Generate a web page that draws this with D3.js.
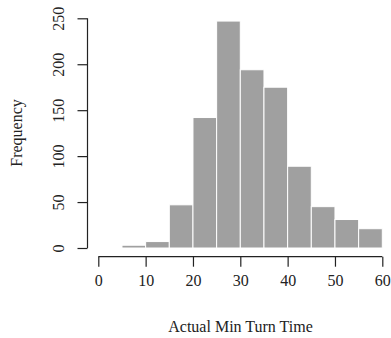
<!DOCTYPE html>
<html>
<head>
<meta charset="utf-8">
<script src="https://cdn.jsdelivr.net/npm/d3@7"></script>
<style>
  body { margin: 0; background: #fff; }
  text { font-family: "Liberation Serif", "DejaVu Serif", serif; fill: #222; }
</style>
</head>
<body>
<div class="chart"></div>
<script>
var svgWidth = 391;
var svgHeight = 338;

// histogram bins (5-minute wide) and counts
var binStarts = [5, 10, 15, 20, 25, 30, 35, 40, 45, 50, 55];
var binWidth = 5;
var counts = [3, 7, 47, 142, 247, 194, 175, 89, 45, 31, 21];
var xTicks = [0, 10, 20, 30, 40, 50, 60];
var yTicks = [0, 50, 100, 150, 200, 250];

var svg = d3.select(".chart")
  .append("svg")
  .attr("width", svgWidth)
  .attr("height", svgHeight);

var xScale = d3.scaleLinear().domain([0, 60]).range([98.3, 382.3]);
var yScale = d3.scaleLinear().domain([0, 250]).range([248, 18.3]);

// bars
svg.append("g").selectAll("rect")
  .data(counts)
  .enter()
  .append("rect")
  .attr("x", (d, i) => xScale(binStarts[i]))
  .attr("y", d => yScale(d))
  .attr("width", (d, i) => xScale(binStarts[i] + binWidth) - xScale(binStarts[i]))
  .attr("height", d => yScale(0) - yScale(d))
  .attr("fill", "#a0a0a0")
  .attr("stroke", "#fff")
  .attr("stroke-width", 1);

// x axis
var xAxis = svg.append("g")
  .attr("transform", "translate(0, 256.7)")
  .call(d3.axisBottom(xScale).tickValues(xTicks).tickSize(10).tickPadding(8).tickFormat(d3.format("d")));
xAxis.select(".domain").attr("d", `M${xScale(0)},0H${xScale(60)}`).attr("stroke", "#222").attr("stroke-width", 1.2);
xAxis.selectAll(".tick line").attr("stroke", "#222").attr("stroke-width", 1.2);
xAxis.selectAll(".tick text").style("font-size", "16px").attr("font-family", null).attr("fill", "#222");

// y axis
var yAxis = svg.append("g")
  .attr("transform", "translate(87.5, 0)")
  .call(d3.axisLeft(yScale).tickValues(yTicks).tickSize(10).tickFormat(d3.format("d")));
yAxis.select(".domain").attr("d", `M0,${yScale(0)}V${yScale(250)}`).attr("stroke", "#222").attr("stroke-width", 1.2);
yAxis.selectAll(".tick line").attr("stroke", "#222").attr("stroke-width", 1.2);
yAxis.selectAll(".tick text")
  .attr("x", null).attr("dy", null).attr("font-family", null)
  .attr("transform", "translate(-24, 0) rotate(-90)")
  .attr("text-anchor", "middle")
  .style("font-size", "16px")
  .attr("fill", "#222");

// axis titles
svg.append("text")
  .attr("x", 240.5)
  .attr("y", 332)
  .attr("text-anchor", "middle")
  .style("font-size", "16px")
  .text("Actual Min Turn Time");

svg.append("text")
  .attr("transform", "translate(22, 133) rotate(-90)")
  .attr("text-anchor", "middle")
  .style("font-size", "16px")
  .text("Frequency");
</script>
</body>
</html>
